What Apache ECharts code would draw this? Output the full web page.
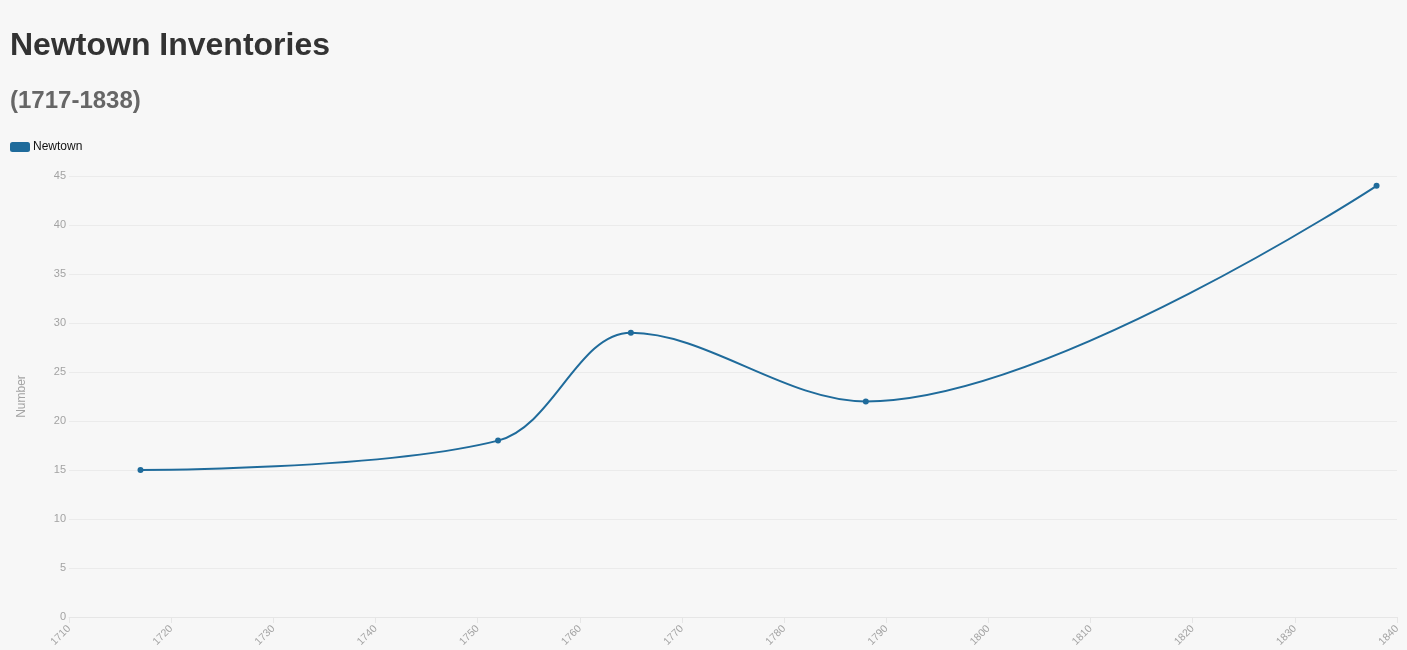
<!DOCTYPE html>
<html>
<head>
<meta charset="utf-8">
<script src="https://cdn.jsdelivr.net/npm/echarts@6/dist/echarts.min.js"></script>
<style>
html,body{margin:0;padding:0;background:#f7f7f7;}
#c{width:1407px;height:650px;}
</style>
</head>
<body>
<div id="c"></div>
<script>
var years = [1717, 1752, 1765, 1788, 1838];
var values = [15, 18, 29, 22, 44];
var xTicks = {min: 1710, max: 1840, interval: 10};
var yTicks = {min: 0, max: 45, interval: 5};
var seriesName = 'Newtown';

var chart = echarts.init(document.getElementById('c'));
var lineColor = '#1f6b9b';
var ff = 'Liberation Sans, Arial, sans-serif';
chart.setOption({
  backgroundColor: '#f7f7f7',
  animation: false,
  title: [
    {text: 'Newtown Inventories', left: 5, top: 25,
     textStyle: {fontFamily: ff, fontSize: 32, fontWeight: 'bold', color: '#333'}},
    {text: '(1717-1838)', left: 5, top: 84,
     textStyle: {fontFamily: ff, fontSize: 24, fontWeight: 'bold', color: '#666'}}
  ],
  legend: {
    left: 5, top: 136, itemWidth: 20, itemHeight: 10, itemGap: 10,
    icon: 'roundRect',
    textStyle: {fontFamily: ff, fontSize: 12, color: '#111', padding: [0,0,0,-2]},
    data: [{name: seriesName, itemStyle: {color: lineColor}}]
  },
  grid: {left: 69, right: 10, top: 176, bottom: 33, containLabel: false},
  xAxis: {
    type: 'value', min: xTicks.min, max: xTicks.max, interval: xTicks.interval,
    axisLine: {show: true, lineStyle: {color: '#e6e6e6'}},
    axisTick: {show: true, length: 6, lineStyle: {color: '#e6e6e6'}},
    splitLine: {show: false},
    axisLabel: {rotate: 45, color: '#a3a3a3', fontSize: 10.5, fontFamily: ff, margin: 10,
      formatter: function (v) { return String(v); }}
  },
  yAxis: {
    type: 'value', min: yTicks.min, max: yTicks.max, interval: yTicks.interval,
    name: 'Number', nameLocation: 'middle', nameGap: 41, nameRotate: 90,
    nameTextStyle: {color: '#a3a3a3', fontSize: 12, fontFamily: ff},
    axisLine: {show: false},
    axisTick: {show: false},
    splitLine: {show: true, lineStyle: {color: '#ebebeb'}},
    axisLabel: {color: '#a3a3a3', fontSize: 11, fontFamily: ff, margin: 3}
  },
  series: [{
    name: seriesName, type: 'line', smooth: 0.35,
    data: years.map(function (y, i) { return [y, values[i]]; }),
    symbol: 'circle', symbolSize: 6,
    lineStyle: {color: lineColor, width: 2},
    itemStyle: {color: lineColor}
  }]
});
</script>
</body>
</html>
